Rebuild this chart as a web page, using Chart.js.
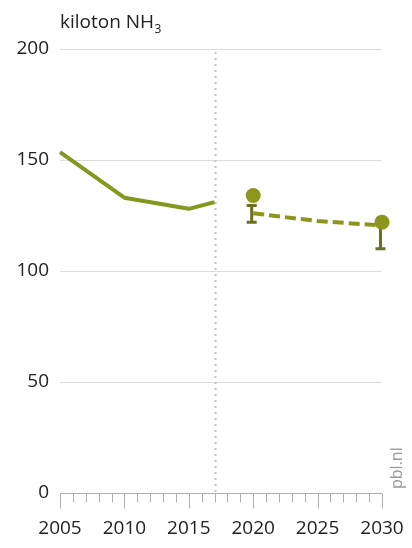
<!DOCTYPE html>
<html>
<head>
<meta charset="utf-8">
<script src="https://cdn.jsdelivr.net/npm/chart.js@4.4.1/dist/chart.umd.min.js"></script>
<style>
  html, body { margin: 0; padding: 0; background: #fff; }
  #wrap { width: 412px; height: 548px; }
</style>
</head>
<body>
<div id="wrap"><canvas id="c" width="412" height="548"></canvas></div>
<script>
// Ammonia emissions (kiloton NH3): observed series and projection
const historyYears = [2005, 2010, 2015, 2017];
const historyValues = [153.5, 133, 128, 131];
const projectionYears = [2020, 2025, 2030];
const projectionValues = [126, 122.5, 120.5];
const targetYears = [2020, 2030];
const targetValues = [134, 122];
const rangeLow = [122, 110];
const rangeHigh = [129.5, 122];
const yTickValues = [0, 50, 100, 150, 200];
const xTickValues = [2005, 2010, 2015, 2020, 2025, 2030];
const lastObservedYear = 2017;

const FONT = '"Open Sans", "DejaVu Sans", sans-serif';
const LINE_GREEN = '#84981f';
const DOT_GREEN = '#8c961c';
const BAR_GREEN = '#6c6f1c';

// Error bars (I-beams) drawn behind the markers
const rangeBars = {
  id: 'rangeBars',
  beforeDatasetsDraw(chart) {
    const { ctx, scales: { x, y } } = chart;
    ctx.save();
    ctx.strokeStyle = BAR_GREEN;
    ctx.lineWidth = 3;
    targetYears.forEach((yr, i) => {
      const px = x.getPixelForValue(yr) - 1.5;
      const lo = y.getPixelForValue(rangeLow[i]);
      const hi = y.getPixelForValue(rangeHigh[i]);
      ctx.beginPath();
      ctx.moveTo(px, lo); ctx.lineTo(px, hi);
      ctx.moveTo(px - 5, lo); ctx.lineTo(px + 5, lo);
      ctx.moveTo(px - 5, hi); ctx.lineTo(px + 5, hi);
      ctx.stroke();
    });
    ctx.restore();
  }
};

// Axis furniture: dotted divider, yearly tick marks, unit label, source
const furniture = {
  id: 'furniture',
  beforeDatasetsDraw(chart) {
    const { ctx, chartArea, scales: { x, y } } = chart;
    ctx.save();
    // dotted line at the last observed year
    const dx = Math.round(x.getPixelForValue(lastObservedYear)) + 0.5;
    ctx.strokeStyle = '#c4c4c4';
    ctx.lineWidth = 2;
    ctx.setLineDash([2, 4]);
    ctx.beginPath();
    ctx.moveTo(dx, chartArea.top + 3);
    ctx.lineTo(dx, chartArea.bottom);
    ctx.stroke();
    ctx.setLineDash([]);
    // yearly tick marks under the zero line
    ctx.strokeStyle = '#b0b0b0';
    ctx.lineWidth = 1;
    const base = Math.round(y.getPixelForValue(0)) + 0.5;
    for (let yr = x.min; yr <= x.max; yr++) {
      const px = Math.round(x.getPixelForValue(yr)) + 0.5;
      const len = yr % 5 === 0 ? 15 : 9;
      ctx.beginPath();
      ctx.moveTo(px, base);
      ctx.lineTo(px, base + len);
      ctx.stroke();
    }
    ctx.restore();
  },
  afterDraw(chart) {
    const { ctx, chartArea } = chart;
    ctx.save();
    ctx.fillStyle = '#222';
    ctx.textBaseline = 'alphabetic';
    ctx.font = '19px ' + FONT;
    const main = 'kiloton NH';
    ctx.fillText(main, chartArea.left, 28);
    const w = ctx.measureText(main).width;
    ctx.font = '12px ' + FONT;
    ctx.fillText('3', chartArea.left + w + 0.5, 33);
    // source mark
    ctx.translate(402, 489);
    ctx.rotate(-Math.PI / 2);
    ctx.font = '16px ' + FONT;
    ctx.fillStyle = '#9a9a9a';
    ctx.textAlign = 'left';
    ctx.textBaseline = 'alphabetic';
    ctx.fillText('pbl.nl', 0, 0);
    ctx.restore();
  }
};

new Chart(document.getElementById('c'), {
  type: 'line',
  data: {
    datasets: [
      {
        label: 'targets',
        type: 'scatter',
        data: targetYears.map((yr, i) => ({ x: yr, y: targetValues[i] })),
        backgroundColor: DOT_GREEN,
        borderColor: DOT_GREEN,
        pointRadius: 7.5,
        borderWidth: 0,
        clip: false,
        order: 0
      },
      {
        label: 'projection',
        data: projectionYears.map((yr, i) => ({ x: yr, y: projectionValues[i] })),
        borderColor: DOT_GREEN,
        borderWidth: 4,
        borderDash: [11, 5],
        pointRadius: 0,
        tension: 0,
        clip: false,
        order: 1
      },
      {
        label: 'observed',
        data: historyYears.map((yr, i) => ({ x: yr, y: historyValues[i] })),
        borderColor: LINE_GREEN,
        borderWidth: 4,
        pointRadius: 0,
        tension: 0,
        borderJoinStyle: 'round',
        clip: false,
        order: 2
      }
    ]
  },
  options: {
    responsive: false,
    animation: false,
    devicePixelRatio: 1,
    layout: { padding: { top: 49, right: 30, left: 0, bottom: 0 } },
    plugins: { legend: { display: false }, tooltip: { enabled: false }, title: { display: false } },
    scales: {
      x: {
        type: 'linear',
        min: 2005,
        max: 2030,
        afterBuildTicks(scale) { scale.ticks = xTickValues.map(v => ({ value: v })); },
        afterFit(scale) {
          scale.height = 55;
          scale.paddingLeft = 0;
          scale.paddingRight = 0;
        },
        grid: { display: false, drawTicks: false },
        border: { display: false },
        ticks: {
          padding: 24,
          maxRotation: 0,
          autoSkip: false,
          color: '#222',
          font: { family: FONT, size: 19 },
          callback: v => String(v)
        }
      },
      y: {
        min: 0,
        max: 200,
        afterBuildTicks(scale) { scale.ticks = yTickValues.map(v => ({ value: v })); },
        afterFit(scale) {
          scale.width = 60;
          scale.paddingTop = 0;
          scale.paddingBottom = 0;
        },
        grid: {
          drawTicks: false,
          color: ctx => (ctx.tick && ctx.tick.value === 0 ? '#b0b0b0' : '#dcdcdc'),
          lineWidth: 1
        },
        border: { display: false },
        ticks: {
          padding: 11,
          color: '#222',
          font: { family: FONT, size: 19 },
          callback: v => String(v)
        }
      }
    }
  },
  plugins: [furniture, rangeBars]
});
</script>
</body>
</html>
